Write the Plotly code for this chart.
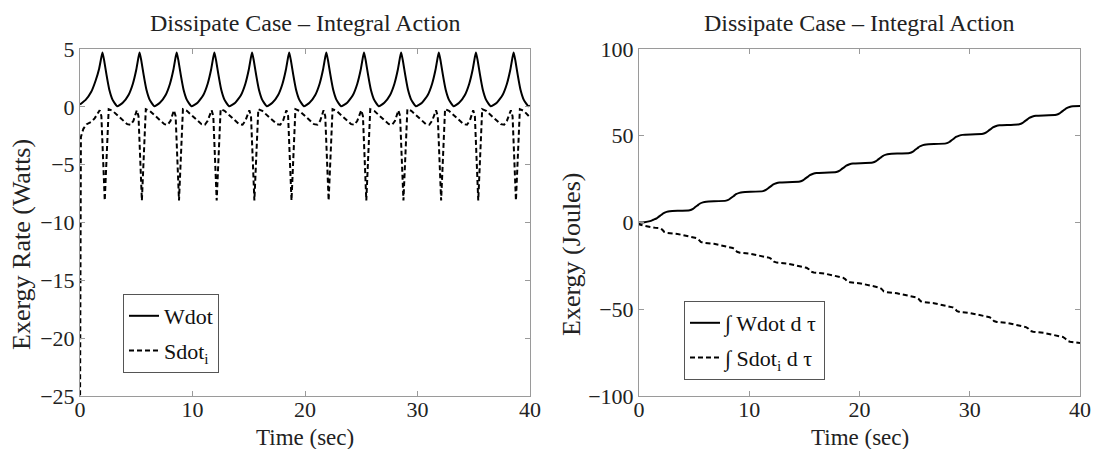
import plotly.graph_objects as go

W, H = 1098, 449
FONT = "Liberation Serif"

# ---------------- Left panel: exergy rates ----------------
WDOT_T = [0.0, 0.5, 1.0, 1.4, 1.7, 1.9, 2.0,
          2.15, 2.35, 2.6, 2.9, 3.3, 3.8, 4.3, 4.7, 5.0, 5.2, 5.3,
          5.45, 5.65, 5.9, 6.2, 6.6, 7.1, 7.6, 8.0, 8.3, 8.5, 8.6,
          8.75, 8.95, 9.2, 9.5, 9.9, 10.45, 10.95, 11.35, 11.65, 11.85, 11.95,
          12.1, 12.3, 12.55, 12.85, 13.25, 13.8, 14.3, 14.7, 15.0, 15.2, 15.3,
          15.45, 15.65, 15.9, 16.2, 16.6, 17.1, 17.6, 18.0, 18.3, 18.5, 18.6,
          18.75, 18.95, 19.2, 19.5, 19.9, 20.4, 20.9, 21.3, 21.6, 21.8, 21.9,
          22.05, 22.25, 22.5, 22.8, 23.2, 23.75, 24.25, 24.65, 24.95, 25.15, 25.25,
          25.4, 25.6, 25.85, 26.15, 26.55, 27.05, 27.55, 27.95, 28.25, 28.45, 28.55,
          28.7, 28.9, 29.15, 29.45, 29.85, 30.4, 30.9, 31.3, 31.6, 31.8, 31.9,
          32.05, 32.25, 32.5, 32.8, 33.2, 33.7, 34.2, 34.6, 34.9, 35.1, 35.2,
          35.35, 35.55, 35.8, 36.1, 36.5, 37.05, 37.55, 37.95, 38.25, 38.45, 38.55,
          38.7, 38.9, 39.15, 39.45, 39.85, 40.0]
WDOT_V = [0.2, 0.6, 1.3, 2.3, 3.3, 4.3, 4.7,
          4.0, 2.8, 1.5, 0.6, 0.05, 0.35, 1.0, 2.0, 3.2, 4.3, 4.7,
          4.0, 2.8, 1.5, 0.6, 0.05, 0.35, 1.0, 2.0, 3.2, 4.3, 4.7,
          4.0, 2.8, 1.5, 0.6, 0.05, 0.35, 1.0, 2.0, 3.2, 4.3, 4.7,
          4.0, 2.8, 1.5, 0.6, 0.05, 0.35, 1.0, 2.0, 3.2, 4.3, 4.7,
          4.0, 2.8, 1.5, 0.6, 0.05, 0.35, 1.0, 2.0, 3.2, 4.3, 4.7,
          4.0, 2.8, 1.5, 0.6, 0.05, 0.35, 1.0, 2.0, 3.2, 4.3, 4.7,
          4.0, 2.8, 1.5, 0.6, 0.05, 0.35, 1.0, 2.0, 3.2, 4.3, 4.7,
          4.0, 2.8, 1.5, 0.6, 0.05, 0.35, 1.0, 2.0, 3.2, 4.3, 4.7,
          4.0, 2.8, 1.5, 0.6, 0.05, 0.35, 1.0, 2.0, 3.2, 4.3, 4.7,
          4.0, 2.8, 1.5, 0.6, 0.05, 0.35, 1.0, 2.0, 3.2, 4.3, 4.7,
          4.0, 2.8, 1.5, 0.6, 0.05, 0.35, 1.0, 2.0, 3.2, 4.3, 4.7,
          4.0, 2.8, 1.5, 0.6, 0.05, 0.1]

SDOT_T = [0.0, 0.08, 0.3, 0.6, 1.0, 1.3, 1.75, 1.9, 2.2, 2.55,
          2.9, 4.2, 4.5, 4.75, 5.05, 5.2, 5.5, 5.85,
          6.2, 7.5, 7.8, 8.05, 8.35, 8.5, 8.8, 9.15,
          9.5, 10.8, 11.1, 11.35, 11.7, 11.85, 12.15, 12.5,
          12.85, 14.15, 14.45, 14.7, 15.05, 15.2, 15.5, 15.85,
          16.2, 17.5, 17.8, 18.05, 18.35, 18.5, 18.8, 19.15,
          19.5, 20.8, 21.1, 21.35, 21.65, 21.8, 22.1, 22.45,
          22.8, 24.1, 24.4, 24.65, 25.0, 25.15, 25.45, 25.8,
          26.15, 27.45, 27.75, 28.0, 28.3, 28.45, 28.75, 29.1,
          29.45, 30.75, 31.05, 31.3, 31.65, 31.8, 32.1, 32.45,
          32.8, 34.1, 34.4, 34.65, 34.95, 35.1, 35.4, 35.75,
          36.1, 37.4, 37.7, 37.95, 38.3, 38.45, 38.75, 39.1,
          39.45, 40.0]
SDOT_V = [-27.0, -2.6, -1.9, -1.5, -1.3, -1.0, -0.3, -0.8, -8.1, -0.2,
          -0.35, -1.5, -1.55, -1.2, -0.3, -0.8, -8.1, -0.2,
          -0.35, -1.5, -1.55, -1.2, -0.3, -0.8, -8.1, -0.2,
          -0.35, -1.5, -1.55, -1.2, -0.3, -0.8, -8.1, -0.2,
          -0.35, -1.5, -1.55, -1.2, -0.3, -0.8, -8.1, -0.2,
          -0.35, -1.5, -1.55, -1.2, -0.3, -0.8, -8.1, -0.2,
          -0.35, -1.5, -1.55, -1.2, -0.3, -0.8, -8.1, -0.2,
          -0.35, -1.5, -1.55, -1.2, -0.3, -0.8, -8.1, -0.2,
          -0.35, -1.5, -1.55, -1.2, -0.3, -0.8, -8.1, -0.2,
          -0.35, -1.5, -1.55, -1.2, -0.3, -0.8, -8.1, -0.2,
          -0.35, -1.5, -1.55, -1.2, -0.3, -0.8, -8.1, -0.2,
          -0.35, -1.5, -1.55, -1.2, -0.3, -0.8, -8.1, -0.2,
          -0.35, -0.9]

# ---------------- Right panel: integrated exergy ----------------
IW_T = [0.0, 0.5, 1.0, 1.3,
        1.6, 1.8, 2.0, 2.2, 2.5, 2.8, 4.6,
        4.9, 5.1, 5.3, 5.5, 5.8, 6.1, 7.9,
        8.2, 8.4, 8.6, 8.8, 9.1, 9.4, 11.25,
        11.55, 11.75, 11.95, 12.15, 12.45, 12.75, 14.6,
        14.9, 15.1, 15.3, 15.5, 15.8, 16.1, 17.9,
        18.2, 18.4, 18.6, 18.8, 19.1, 19.4, 21.2,
        21.5, 21.7, 21.9, 22.1, 22.4, 22.7, 24.55,
        24.85, 25.05, 25.25, 25.45, 25.75, 26.05, 27.85,
        28.15, 28.35, 28.55, 28.75, 29.05, 29.35, 31.2,
        31.5, 31.7, 31.9, 32.1, 32.4, 32.7, 34.5,
        34.8, 35.0, 35.2, 35.4, 35.7, 36.0, 37.85,
        38.15, 38.35, 38.55, 38.75, 39.05, 39.35, 40.0]
IW_V = [0.0, 0.2, 0.8, 1.6,
        2.4, 3.4, 4.3, 5.3, 6.1, 6.5, 7.1,
        7.9, 8.9, 9.8, 10.8, 11.6, 12.0, 12.6,
        13.4, 14.4, 15.3, 16.3, 17.1, 17.5, 18.1,
        18.9, 19.9, 20.8, 21.8, 22.6, 23.0, 23.6,
        24.4, 25.4, 26.3, 27.3, 28.1, 28.5, 29.1,
        29.9, 30.9, 31.8, 32.8, 33.6, 34.0, 34.6,
        35.4, 36.4, 37.3, 38.3, 39.1, 39.5, 40.1,
        40.9, 41.9, 42.8, 43.8, 44.6, 45.0, 45.6,
        46.4, 47.4, 48.3, 49.3, 50.1, 50.5, 51.1,
        51.9, 52.9, 53.8, 54.8, 55.6, 56.0, 56.6,
        57.4, 58.4, 59.3, 60.3, 61.1, 61.5, 62.1,
        62.9, 63.9, 64.8, 65.8, 66.6, 67.0, 67.1]

IS_T = [0.0, 0.08, 0.5, 1.0, 1.5, 1.9,
        2.1, 2.3, 2.55, 3.5, 5.2,
        5.4, 5.6, 5.85, 6.8, 8.5,
        8.7, 8.9, 9.15, 10.1, 11.85,
        12.05, 12.25, 12.5, 13.45, 15.2,
        15.4, 15.6, 15.85, 16.8, 18.5,
        18.7, 18.9, 19.15, 20.1, 21.8,
        22.0, 22.2, 22.45, 23.4, 25.15,
        25.35, 25.55, 25.8, 26.75, 28.45,
        28.65, 28.85, 29.1, 30.05, 31.8,
        32.0, 32.2, 32.45, 33.4, 35.1,
        35.3, 35.5, 35.75, 36.7, 38.45,
        38.65, 38.85, 39.1, 40.0]
IS_V = [0.0, -1.2, -1.9, -2.6, -3.1, -3.3,
        -4.1, -5.5, -6.0, -6.6, -9.0,
        -9.8, -11.2, -11.7, -12.3, -14.7,
        -15.5, -16.9, -17.4, -18.0, -20.4,
        -21.2, -22.6, -23.1, -23.7, -26.1,
        -26.9, -28.3, -28.8, -29.4, -31.8,
        -32.6, -34.0, -34.5, -35.1, -37.5,
        -38.3, -39.7, -40.2, -40.8, -43.2,
        -44.0, -45.4, -45.9, -46.5, -48.9,
        -49.7, -51.1, -51.6, -52.2, -54.6,
        -55.4, -56.8, -57.3, -57.9, -60.3,
        -61.1, -62.5, -63.0, -63.6, -66.0,
        -66.8, -68.2, -68.7, -69.5]

X_TICKS = [0, 10, 20, 30, 40]
Y1_TICKS = [-25, -20, -15, -10, -5, 0, 5]
Y2_TICKS = [-100, -50, 0, 50, 100]

TITLE = "Dissipate Case \u2013 Integral Action"

# pixel layout helpers
def fx(px):
    return px / W

def fy(py):
    return 1 - py / H

L1, R1 = 80, 530
L2, R2 = 639, 1080
TOP, BOT = 49, 396

DASH = "5px,3px"

fig = go.Figure()
fig.add_trace(go.Scatter(x=WDOT_T, y=WDOT_V, mode="lines", name="Wdot", legendgroup="a",
                         line=dict(color="black", width=2, shape="spline", smoothing=0.4),
                         xaxis="x", yaxis="y", legend="legend"))
fig.add_trace(go.Scatter(x=SDOT_T, y=SDOT_V, mode="lines", name="Sdot<sub>i</sub>", legendgroup="b",
                         line=dict(color="black", width=2, dash=DASH),
                         xaxis="x", yaxis="y", legend="legend"))
fig.add_trace(go.Scatter(x=IW_T, y=IW_V, mode="lines", name="\u222b Wdot d \u03c4", legendgroup="c",
                         line=dict(color="black", width=2, shape="spline", smoothing=0.6),
                         xaxis="x2", yaxis="y2", legend="legend2"))
fig.add_trace(go.Scatter(x=IS_T, y=IS_V, mode="lines", name="\u222b Sdot<sub>i</sub> d \u03c4", legendgroup="d",
                         line=dict(color="black", width=2, dash=DASH),
                         xaxis="x2", yaxis="y2", legend="legend2"))

axis_common = dict(showline=True, linecolor="#9a9a9a", linewidth=1, mirror="allticks",
                   ticks="inside", ticklen=5, tickcolor="#9a9a9a", showgrid=False,
                   zeroline=False, automargin=False,
                   tickfont=dict(family=FONT, size=22, color="#222222"))

legend_common = dict(xanchor="left", yanchor="top", bgcolor="white",
                     bordercolor="#555555", borderwidth=1, itemwidth=30,
                     tracegroupgap=3, traceorder="grouped",
                     font=dict(family=FONT, size=22, color="#111111"))

ann_font = dict(family=FONT, size=24, color="#222222")
xlab_font = dict(family=FONT, size=23, color="#222222")
ylab_font = dict(family=FONT, size=26, color="#222222")

fig.update_layout(
    width=W, height=H,
    margin=dict(l=0, r=0, t=0, b=0),
    paper_bgcolor="white", plot_bgcolor="white",
    showlegend=True,
    xaxis=dict(domain=[fx(L1), fx(R1)], range=[0, 40], tickvals=X_TICKS, anchor="y",
               ticklabelstandoff=-6, **axis_common),
    yaxis=dict(domain=[fy(BOT), fy(TOP)], range=[-25, 5], tickvals=Y1_TICKS, anchor="x", **axis_common),
    xaxis2=dict(domain=[fx(L2), fx(R2)], range=[0, 40], tickvals=X_TICKS, anchor="y2",
                ticklabelstandoff=-6, **axis_common),
    yaxis2=dict(domain=[fy(BOT), fy(TOP)], range=[-100, 100], tickvals=Y2_TICKS, anchor="x2", **axis_common),
    legend=dict(x=fx(123), y=fy(294), **legend_common),
    legend2=dict(x=fx(684), y=fy(301), **legend_common),
    annotations=[
        dict(text=TITLE, x=fx((L1 + R1) / 2), y=fy(23), xref="paper", yref="paper",
             showarrow=False, xanchor="center", yanchor="middle", font=ann_font),
        dict(text=TITLE, x=fx((L2 + R2) / 2), y=fy(23), xref="paper", yref="paper",
             showarrow=False, xanchor="center", yanchor="middle", font=ann_font),
        dict(text="Time (sec)", x=fx((L1 + R1) / 2), y=fy(437), xref="paper", yref="paper",
             showarrow=False, xanchor="center", yanchor="middle", font=xlab_font),
        dict(text="Time (sec)", x=fx((L2 + R2) / 2), y=fy(437), xref="paper", yref="paper",
             showarrow=False, xanchor="center", yanchor="middle", font=xlab_font),
        dict(text="Exergy Rate (Watts)", x=fx(22), y=fy(245), xref="paper", yref="paper",
             showarrow=False, xanchor="center", yanchor="middle", textangle=-90, font=ylab_font),
        dict(text="Exergy (Joules)", x=fx(571), y=fy(255), xref="paper", yref="paper",
             showarrow=False, xanchor="center", yanchor="middle", textangle=-90, font=ylab_font),
    ],
)

fig.write_html("out.html")
